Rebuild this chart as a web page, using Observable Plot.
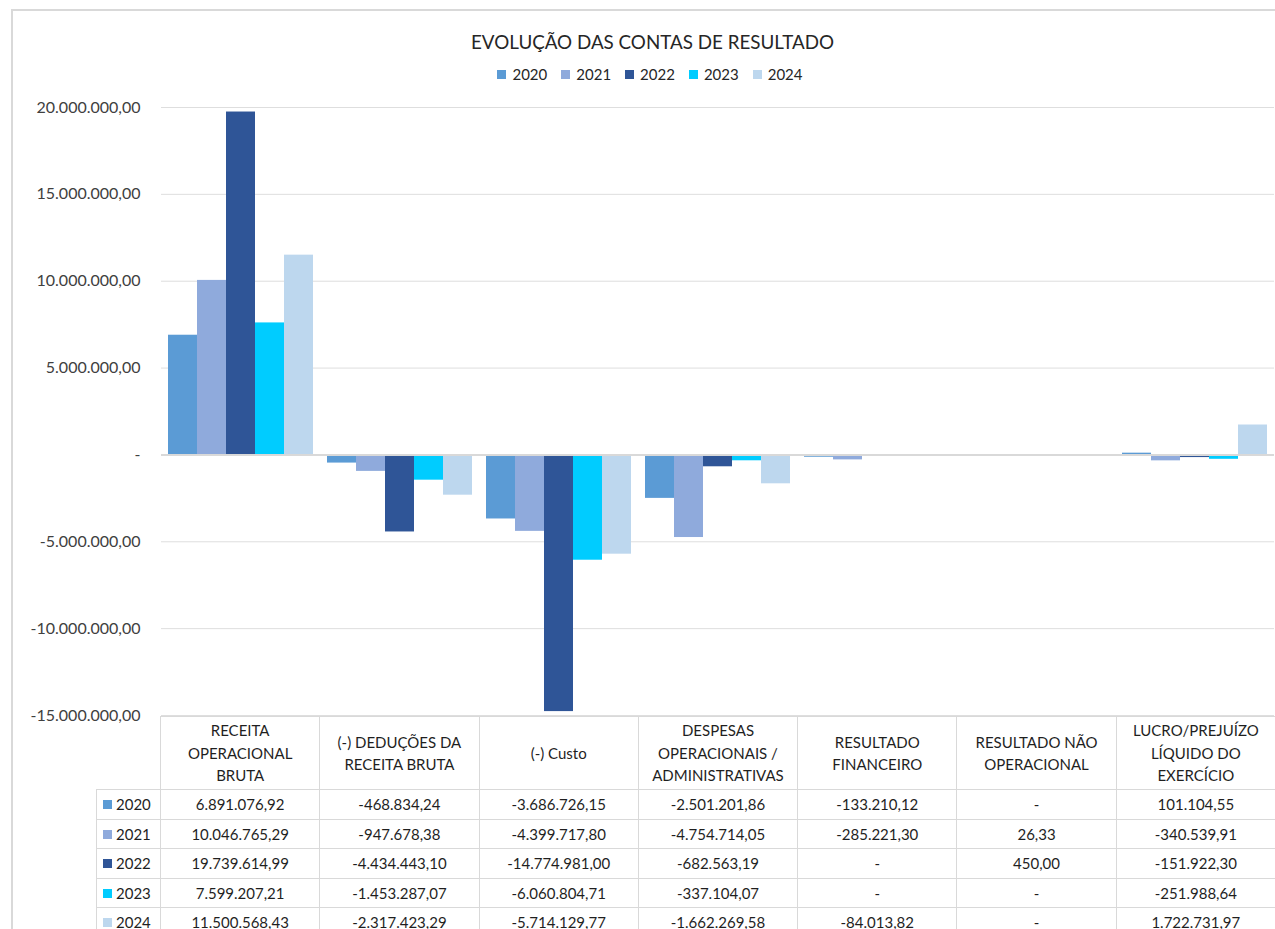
<!DOCTYPE html>
<html>
<head>
<meta charset="utf-8">
<script src="https://cdn.jsdelivr.net/npm/d3@7"></script>
<script src="https://cdn.jsdelivr.net/npm/@observablehq/plot@0.6"></script>
<style>
  html, body { margin: 0; padding: 0; background: #fff; }
  body { width: 1275px; height: 929px; position: relative; overflow: hidden; font-family: Lato, "Open Sans", sans-serif; }
  #frame { position: absolute; left: 11px; top: 9px; width: 1400px; height: 1000px; border-top: 2.5px solid #d9d9d9; border-left: 2.5px solid #d9d9d9; }
  #title { position: absolute; top: 30px; left: 0; width: 1305px; text-align: center; font-size: 18.8px; color: #262626; }
  #legend { position: absolute; top: 65px; left: 0; width: 1300px; display: flex; justify-content: center; gap: 14px; font-size: 15px; color: #262626; }
  #legend span.sw { display: inline-block; width: 9px; height: 9px; margin-right: 6px; vertical-align: 1px; }
  #chart { position: absolute; left: 0; top: 0; }
  #tbl { position: absolute; left: 96px; top: 716px; border-collapse: collapse; table-layout: fixed; font-size: 15px; color: #1f1f1f; }
  #tbl td { border: 1.5px solid #d9d9d9; text-align: center; padding: 0; }
  #tbl tr.hdr td { height: 72px; line-height: 22.5px; white-space: pre-line; }
  #tbl tr.row td { height: 28.5px; }
  #tbl td.corner { border-top: none; border-left: none; }
  #tbl td.lg { text-align: left; padding-left: 6px; white-space: nowrap; }
  #tbl td.lg span { display: inline-block; width: 9px; height: 9px; margin-right: 4px; vertical-align: 1px; }
</style>
</head>
<body>
<div id="frame"></div>
<div id="title">EVOLUÇÃO DAS CONTAS DE RESULTADO</div>
<div id="legend"></div>
<div id="chart"></div>
<table id="tbl"></table>
<script>
// ---- data ----
const categories = [
  "RECEITA\nOPERACIONAL\nBRUTA",
  "(-) DEDUÇÕES DA\nRECEITA BRUTA",
  "(-) Custo",
  "DESPESAS\nOPERACIONAIS /\nADMINISTRATIVAS",
  "RESULTADO\nFINANCEIRO",
  "RESULTADO NÃO\nOPERACIONAL",
  "LUCRO/PREJUÍZO\nLÍQUIDO DO\nEXERCÍCIO"
];
const years = ["2020", "2021", "2022", "2023", "2024"];
const values2020 = [6891076.92, -468834.24, -3686726.15, -2501201.86, -133210.12, 0, 101104.55];
const values2021 = [10046765.29, -947678.38, -4399717.80, -4754714.05, -285221.30, 26.33, -340539.91];
const values2022 = [19739614.99, -4434443.10, -14774981.00, -682563.19, 0, 450.00, -151922.30];
const values2023 = [7599207.21, -1453287.07, -6060804.71, -337104.07, 0, 0, -251988.64];
const values2024 = [11500568.43, -2317423.29, -5714129.77, -1662269.58, -84013.82, 0, 1722731.97];
const yTicks = [-15000000, -10000000, -5000000, 0, 5000000, 10000000, 15000000, 20000000];
const colors = ["#5B9BD5", "#8FAADC", "#2F5597", "#00CCFF", "#BDD7EE"];

const series = [values2020, values2021, values2022, values2023, values2024];
const data = categories.flatMap((c, i) => years.map((y, j) => ({cat: c, year: y, value: series[j][i]})));

const loc = d3.formatLocale({decimal: ",", thousands: ".", grouping: [3], currency: ["R$ ", ""], minus: "-"});
const f2 = loc.format(",.2f");
const fmt = v => v === 0 ? "-" : f2(v);

// ---- chart ----
const chart = Plot.plot({
  width: 1275,
  height: 716,
  marginLeft: 160,
  marginRight: 0,
  marginTop: 107,
  marginBottom: 1,
  style: {fontFamily: "Lato, 'Open Sans', sans-serif", fontSize: "16px", color: "#404040", background: "transparent", overflow: "visible"},
  fx: {domain: categories, padding: 0, axis: null},
  x: {domain: years, paddingInner: 0, paddingOuter: 0.227, axis: null},
  y: {domain: [-15000000, 20000000], ticks: yTicks, tickFormat: fmt, tickSize: 0, tickPadding: 21, label: null},
  color: {domain: years, range: colors},
  marks: [
    Plot.ruleY(yTicks, {stroke: "#dedede", strokeWidth: 1}),
    Plot.barY(data, {fx: "cat", x: "year", y: "value", fill: "year"}),
    Plot.ruleY([0], {stroke: "#d9d9d9", strokeWidth: 2})
  ]
});
document.getElementById("chart").appendChild(chart);

// ---- legend ----
const legend = document.getElementById("legend");
years.forEach((y, j) => {
  const item = document.createElement("div");
  item.innerHTML = `<span class="sw" style="background:${colors[j]}"></span>${y}`;
  legend.appendChild(item);
});

// ---- data table ----
const tbl = document.getElementById("tbl");
const colW = 1115 / categories.length;
let html = `<colgroup><col style="width:64px">${categories.map(() => `<col style="width:${colW}px">`).join("")}</colgroup>`;
html += `<tr class="hdr"><td class="corner"></td>${categories.map(c => `<td>${c}</td>`).join("")}</tr>`;
years.forEach((y, j) => {
  html += `<tr class="row"><td class="lg"><span style="background:${colors[j]}"></span>${y}</td>${series[j].map(v => `<td>${fmt(v)}</td>`).join("")}</tr>`;
});
tbl.innerHTML = html;
tbl.style.width = (64 + 1115) + "px";
</script>
</body>
</html>
